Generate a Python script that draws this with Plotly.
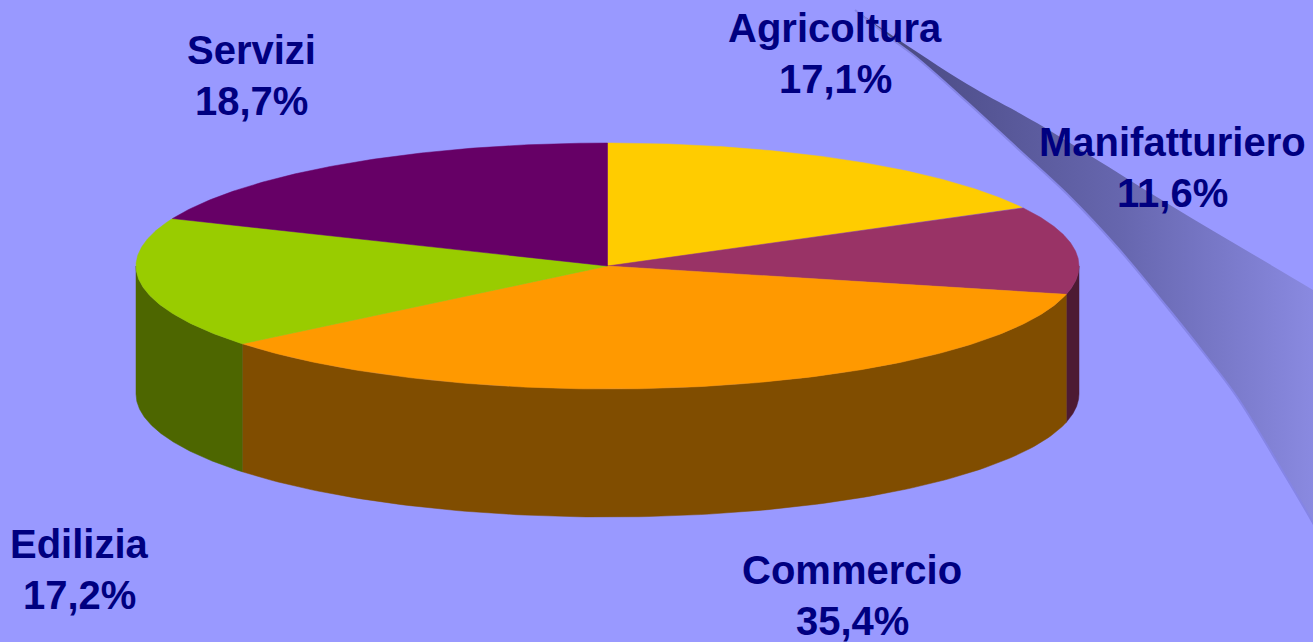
import numpy as np
import plotly.graph_objects as go

W, H = 1313, 642
categories = ["Agricoltura", "Manifatturiero", "Commercio", "Edilizia", "Servizi"]
values = [17.1, 11.6, 35.4, 17.2, 18.7]
top_colors = ["#FFCC00", "#993366", "#FF9900", "#99CC00", "#660066"]
side_colors = ["#806600", "#4D1A33", "#804D00", "#4D6600", "#330033"]
label_x = [835, 1172, 852, 79, 251]
label_y = [28, 142, 570, 544, 50]

CX, CY, RX, RY, DEPTH = 607.5, 266, 471.5, 123, 128
BG = "#9999FF"
TEXT = "#000080"

rim_x = [855, 893, 917, 967, 1017, 1070, 1117, 1167, 1203, 1237, 1277, 1313, 1420]
rim_y = [10, 40, 58, 102, 148, 197, 247, 307, 352, 397, 462, 523, 720]
top_x = [855, 893, 967, 1037, 1170, 1313, 1420]
top_y = [10, 36, 84, 123, 205, 290, 355]
swoosh_x = top_x + rim_x[::-1]
swoosh_y = top_y + rim_y[::-1]


def px(t):
    return CX + RX * np.sin(t), CY - RY * np.cos(t)


fig = go.Figure()

fig.add_trace(go.Scatter(
    x=swoosh_x, y=swoosh_y, mode="lines", fill="toself",
    line=dict(width=0, shape="spline", smoothing=1),
    fillgradient=dict(type="horizontal",
                      colorscale=[[0, "#45457C"], [0.45, "#6666AE"], [0.8, "#8C8CE4"], [1, "#8C8CE4"]]),
    hoverinfo="skip", showlegend=False))
fig.add_trace(go.Scatter(
    x=rim_x, y=rim_y, mode="lines",
    line=dict(width=2, color="#8585E6", shape="spline", smoothing=1),
    hoverinfo="skip", showlegend=False))

edges = np.concatenate([[0], np.cumsum(values)]) / sum(values) * 2 * np.pi

# Visible outer walls: only the front half of the ellipse (90deg..270deg)
for a0, a1, col in zip(edges[:-1], edges[1:], side_colors):
    lo, hi = max(a0, np.pi / 2), min(a1, 3 * np.pi / 2)
    if lo >= hi:
        continue
    t = np.linspace(lo, hi, 120)
    x, y = px(t)
    fig.add_trace(go.Scatter(
        x=np.concatenate([x, x[::-1], x[:1]]),
        y=np.concatenate([y, y[::-1] + DEPTH, y[:1]]),
        mode="lines", fill="toself", fillcolor=col,
        line=dict(width=0.5, color=col), hoverinfo="skip", showlegend=False))

# Top faces
for a0, a1, col in zip(edges[:-1], edges[1:], top_colors):
    t = np.linspace(a0, a1, 160)
    x, y = px(t)
    fig.add_trace(go.Scatter(
        x=np.concatenate([[CX], x, [CX]]),
        y=np.concatenate([[CY], y, [CY]]),
        mode="lines", fill="toself", fillcolor=col,
        line=dict(width=0.5, color=col), hoverinfo="skip", showlegend=False))

for name, val, lx, ly in zip(categories, values, label_x, label_y):
    for text, yy in ((name, ly), (f"{val:.1f}%".replace(".", ","), ly + 51)):
        fig.add_annotation(x=lx, y=yy, text=f"<b>{text}</b>", showarrow=False,
                           xanchor="center", yanchor="middle",
                           font=dict(family="Liberation Sans", size=40, color=TEXT))

fig.update_layout(
    width=W, height=H, margin=dict(l=0, r=0, t=0, b=0),
    paper_bgcolor=BG, plot_bgcolor=BG, showlegend=False,
    xaxis=dict(range=[0, W], visible=False, fixedrange=True),
    yaxis=dict(range=[H, 0], visible=False, fixedrange=True),
)
fig.write_html("out.html", config=dict(displayModeBar=False),
               post_script="document.body.style.margin='0';document.body.style.overflow='hidden';document.body.style.background='#9999FF';")
